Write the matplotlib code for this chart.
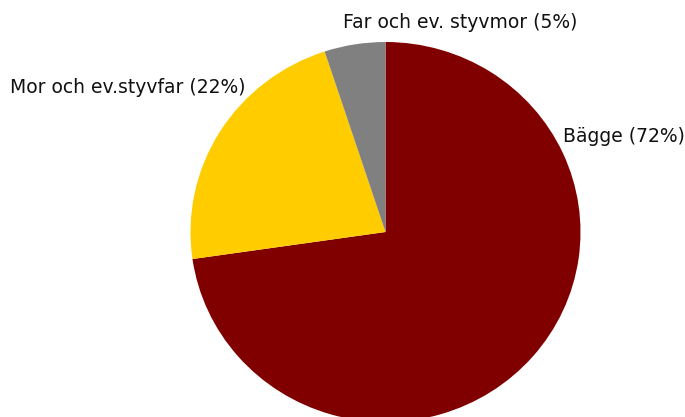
import matplotlib.pyplot as plt

labels = ['Bägge (72%)', 'Mor och ev.styvfar (22%)', 'Far och ev. styvmor (5%)']
values = [72, 22, 5]
colors = ['#800000', '#FFCC00', '#808080']

W, H = 685, 417
fig = plt.figure(figsize=(W / 100, H / 100), dpi=100)
ax = fig.add_axes([0, 0, 1, 1])

# pie drawn in pixel-like units; y squeezed a little (slightly oval pie)
sy = 195 / 190
ax.pie(values, colors=colors, startangle=90, counterclock=False,
       center=(385.5, (H - 232) * sy), radius=195, frame=True,
       wedgeprops={'linewidth': 0})

ax.set_xlim(0, W)
ax.set_ylim(0, H * sy)
ax.set_aspect('auto')
ax.axis('off')

font = dict(family='DejaVu Sans', fontsize=13.5, color='#111111', va='baseline')
ax.text(563, (H - 142) * sy, labels[0], ha='left', **font)
ax.text(10, (H - 93) * sy, labels[1], ha='left', **font)
ax.text(343, (H - 28) * sy, labels[2], ha='left', **font)

fig.savefig('out.png', dpi=100)
